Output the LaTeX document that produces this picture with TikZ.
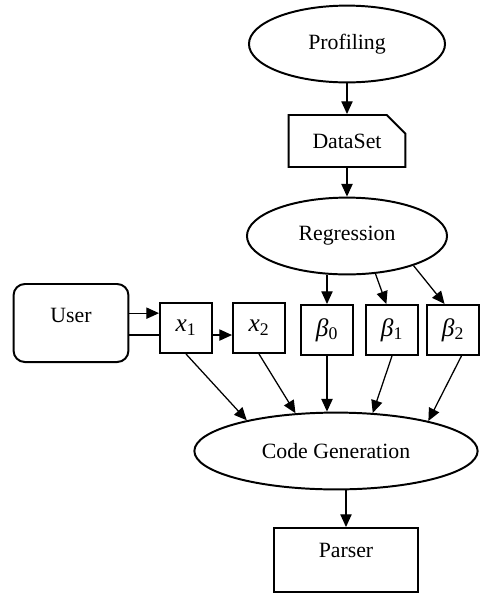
\documentclass[tikz,border=0pt]{standalone}
\usepackage{fontspec}
\setmainfont{Liberation Serif}
\usetikzlibrary{arrows.meta,shapes.geometric,shapes.misc}

\newcommand{\vsym}[2]{\textit{#1}\textsubscript{#2}}

\begin{document}
\begin{tikzpicture}[x=0.025cm,y=-0.025cm,
  every node/.style={font=\fontsize{15.5}{18}\selectfont},
  oval/.style={draw,ellipse,line width=1.4pt,inner sep=0pt,minimum height=1.92cm},
  box/.style={draw,rectangle,line width=1.4pt,inner sep=0pt},
  var/.style={box,minimum width=1.3cm,minimum height=1.25cm,font=\fontsize{18}{20}\selectfont},
  arr/.style={-{Triangle[length=9pt,width=8pt]},line width=.9pt}]
\useasboundingbox (0,0) rectangle (480,595);
% top chain
\node[oval,minimum width=4.9cm] (prof) at (347,44) {Profiling};
\node[box,chamfered rectangle,chamfered rectangle corners=north east,
  chamfered rectangle xsep=7pt,chamfered rectangle ysep=8pt,
  minimum width=2.92cm,minimum height=1.3cm] (ds) at (347,141) {DataSet};
\node[oval,minimum width=5cm] (reg) at (347,236) {Regression};
% inputs
\node[box,rounded corners=8pt,minimum width=2.87cm,minimum height=1.95cm,text depth=11pt] (user) at (71,323) {User};
\node[var] (x1) at (186,328) {\vsym{x}{1}};
\node[var] (x2) at (259,328) {\vsym{x}{2}};
\node[var] (b0) at (327,330) {\vsym{β}{0}};
\node[var] (b1) at (392,330) {\vsym{β}{1}};
\node[var] (b2) at (453,330) {\vsym{β}{2}};
% bottom
\node[oval,minimum width=7.08cm] (cg) at (336,451) {Code Generation};
\node[box,minimum width=3.6cm,minimum height=1.6cm,text depth=14pt] (parser) at (346,560) {Parser};

\draw[arr] (prof.south) -- (ds.north);
\draw[arr] (ds.south) -- (reg.north);
\draw[arr] (b0.north |- reg.south) -- (b0.north);
\draw[arr] (reg.307) -- ([xshift=-4pt]b1.north);
\draw[arr] (reg.336) -- ([xshift=-6pt]b2.north);

\coordinate (uhi) at ([yshift=7pt]user.east);
\coordinate (ulo) at ([yshift=-8.5pt]user.east);
\coordinate (xm) at ([yshift=-5pt]x1.east);
\draw[arr] (uhi) -- (uhi -| x1.west);
\draw[line width=.9pt] (ulo) -- (ulo -| x1.west);
\draw[arr] (xm) -- (xm -| x2.west);

\draw[arr] (x1.south) -- (cg.161);
\draw[arr] (x2.south) -- (cg.137);
\draw[arr] (b0.south) -- (b0.south |- cg.north);
\draw[arr] (b1.south) -- (cg.46);
\draw[arr] ([xshift=6pt]b2.south) -- (cg.18);
\draw[arr] (parser.north |- cg.south) -- (parser.north);
\end{tikzpicture}
\end{document}
